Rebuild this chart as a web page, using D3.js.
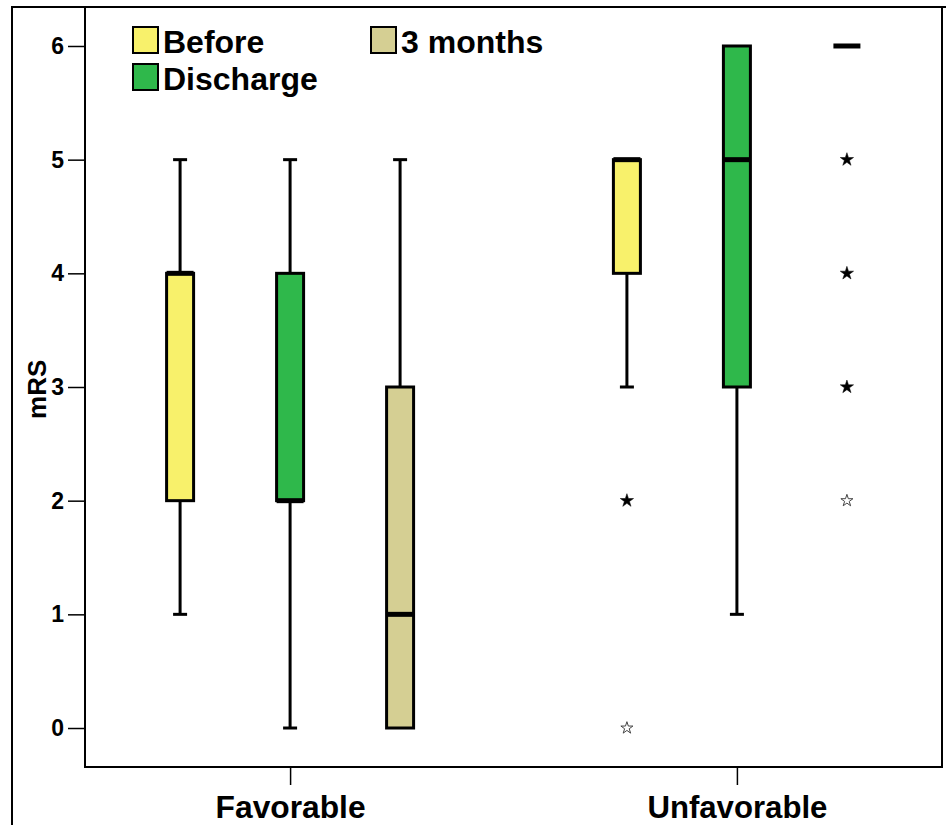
<!DOCTYPE html>
<html>
<head>
<meta charset="utf-8">
<script src="https://cdn.jsdelivr.net/npm/d3@7"></script>
<style>
  body { margin: 0; background: #fff; }
  text { font-family: "Liberation Sans", Arial, sans-serif; font-weight: bold; }
</style>
</head>
<body>
<div id="chart"></div>
<script>
const groups = ['Favorable', 'Unfavorable'];
const series = ['Before', 'Discharge', '3 months'];
const colors = ['#f8f16b', '#2fb84b', '#d5cf93'];
const y_ticks = [0, 1, 2, 3, 4, 5, 6];

// [group, series, min, q1, median, q3, max]
const boxes = [
    ['Favorable', 'Before', 1, 2, 4, 4, 5],
    ['Favorable', 'Discharge', 0, 2, 2, 4, 5],
    ['Favorable', '3 months', 0, 0, 1, 3, 5],
    ['Unfavorable', 'Before', 3, 4, 5, 5, 5],
    ['Unfavorable', 'Discharge', 1, 3, 5, 6, 6],
    ['Unfavorable', '3 months', 6, 6, 6, 6, 6]
];

// extreme values: [group, series, value, bold]
const extremes = [
    ['Unfavorable', 'Before', 2, true],
    ['Unfavorable', 'Before', 0, false],
    ['Unfavorable', '3 months', 5, true],
    ['Unfavorable', '3 months', 4, true],
    ['Unfavorable', '3 months', 3, true],
    ['Unfavorable', '3 months', 2, false]
];

const chart_width = 946;
const chart_height = 825;
const plot = {left: 85, right: 942, top: 7, bottom: 767};

const svg = d3.select('#chart')
    .append('svg')
    .attr('width', chart_width)
    .attr('height', chart_height);

// outer frame
svg.append('path')
    .attr('d', `M12,${chart_height} V7 H${chart_width}`)
    .attr('fill', 'none')
    .attr('stroke', '#000')
    .attr('stroke-width', 2);

// scales
const y_scale = d3.scaleLinear()
    .domain([-0.343, 6.343])
    .range([plot.bottom, plot.top]);

const x_scale = d3.scalePoint()
    .domain(groups)
    .range([plot.left, plot.right])
    .padding(0.459);

const sub_scale = d3.scaleBand()
    .domain(series)
    .range([-165, 165]);

const box_w = 27;
const cx = d => x_scale(d[0]) + sub_scale(d[1]) + sub_scale.bandwidth() / 2;
const color = d3.scaleOrdinal().domain(series).range(colors);

// plot frame
svg.append('path')
    .attr('d', `M${plot.left},${plot.top} V${plot.bottom} H${plot.right} V${plot.top}`)
    .attr('fill', 'none')
    .attr('stroke', '#000')
    .attr('stroke-width', 2);

// axes
const y_axis = svg.append('g')
    .attr('transform', `translate(${plot.left},0)`)
    .call(d3.axisLeft(y_scale).tickValues(y_ticks).tickFormat(d3.format('d')).tickSize(17).tickPadding(4));
y_axis.select('.domain').remove();
y_axis.selectAll('line').attr('stroke-width', 1.5);
y_axis.selectAll('text').attr('font-size', 23).attr('fill', '#000')
    .style('font-family', '"Liberation Sans", Arial, sans-serif');

const x_axis = svg.append('g')
    .attr('transform', `translate(0,${plot.bottom})`)
    .call(d3.axisBottom(x_scale).tickSize(18).tickPadding(10));
x_axis.select('.domain').remove();
x_axis.selectAll('line').attr('stroke-width', 1.5);
x_axis.selectAll('text')
    .attr('font-size', 32)
    .attr('fill', '#000')
    .attr('textLength', d => d === 'Favorable' ? 150 : 180)
    .attr('lengthAdjust', 'spacingAndGlyphs')
    .style('font-family', '"Liberation Sans", Arial, sans-serif');

svg.append('text')
    .attr('transform', `translate(46,${y_scale(2.98)}) rotate(-90)`)
    .attr('text-anchor', 'middle')
    .attr('font-size', 26)
    .text('mRS');

// whiskers
const wh = svg.append('g').attr('stroke', '#000').attr('stroke-width', 3);
boxes.filter(d => d[6] > d[5]).forEach(d => {
    wh.append('line').attr('x1', cx(d)).attr('x2', cx(d))
        .attr('y1', y_scale(d[5])).attr('y2', y_scale(d[6]));
    wh.append('line').attr('x1', cx(d) - 7).attr('x2', cx(d) + 7)
        .attr('y1', y_scale(d[6])).attr('y2', y_scale(d[6]));
});
boxes.filter(d => d[2] < d[3]).forEach(d => {
    wh.append('line').attr('x1', cx(d)).attr('x2', cx(d))
        .attr('y1', y_scale(d[3])).attr('y2', y_scale(d[2]));
    wh.append('line').attr('x1', cx(d) - 7).attr('x2', cx(d) + 7)
        .attr('y1', y_scale(d[2])).attr('y2', y_scale(d[2]));
});

// boxes
svg.selectAll('rect.box')
    .data(boxes.filter(d => d[5] > d[3]))
    .enter()
    .append('rect')
    .attr('class', 'box')
    .attr('x', d => cx(d) - box_w / 2)
    .attr('y', d => y_scale(d[5]))
    .attr('width', box_w)
    .attr('height', d => y_scale(d[3]) - y_scale(d[5]))
    .attr('fill', d => color(d[1]))
    .attr('stroke', '#000')
    .attr('stroke-width', 3);

// medians
svg.selectAll('line.median')
    .data(boxes)
    .enter()
    .append('line')
    .attr('class', 'median')
    .attr('x1', d => cx(d) - box_w / 2)
    .attr('x2', d => cx(d) + box_w / 2)
    .attr('y1', d => y_scale(d[4]))
    .attr('y2', d => y_scale(d[4]))
    .attr('stroke', '#000')
    .attr('stroke-width', 5);

// extremes
svg.selectAll('path.extreme')
    .data(extremes)
    .enter()
    .append('path')
    .attr('class', 'extreme')
    .attr('d', d => d3.symbol(d3.symbolStar, d[3] ? 55 : 45)())
    .attr('transform', d => `translate(${cx(d)},${y_scale(d[2])})`)
    .attr('fill', d => d[3] ? '#000' : '#fff')
    .attr('stroke', d => d[3] ? '#000' : '#444')
    .attr('stroke-width', d => d[3] ? 0.5 : 1);

// legend
const legend_pos = [[133, 27], [133, 64], [371, 27]];
const legend = svg.selectAll('g.legend')
    .data(series)
    .enter()
    .append('g')
    .attr('class', 'legend')
    .attr('transform', (d, i) => `translate(${legend_pos[i][0]},${legend_pos[i][1]})`);
legend.append('rect')
    .attr('width', 25)
    .attr('height', 26)
    .attr('fill', d => color(d))
    .attr('stroke', '#000')
    .attr('stroke-width', 2);
legend.append('text')
    .attr('x', 30)
    .attr('y', 26)
    .attr('font-size', 32)
    .text(d => d);
</script>
</body>
</html>
